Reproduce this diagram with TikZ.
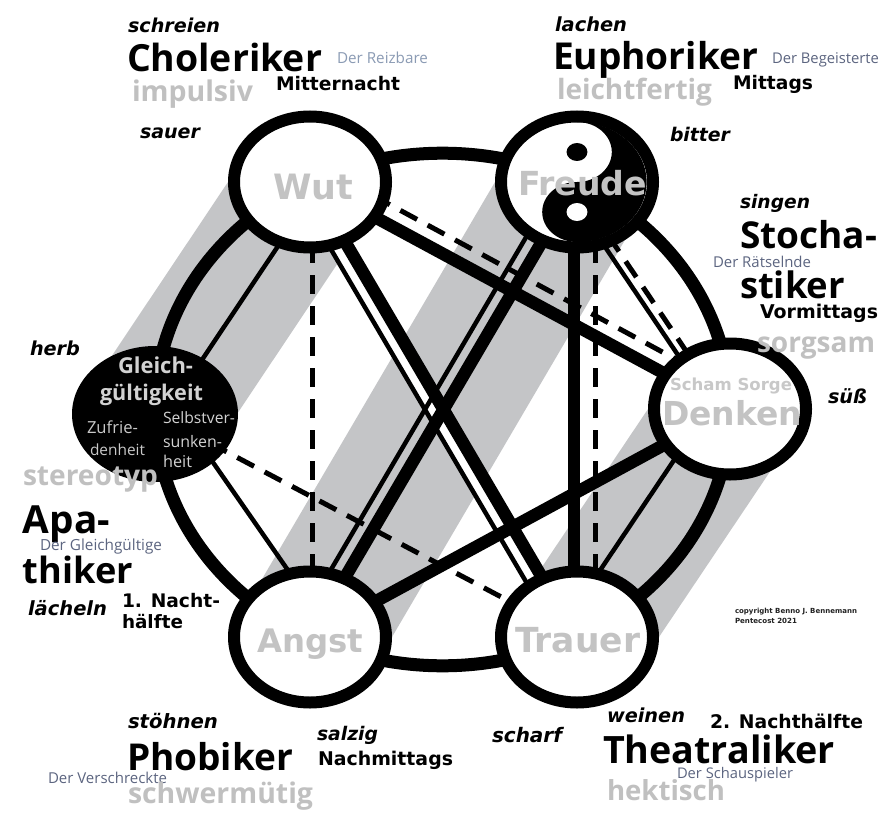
\documentclass[tikz,border=0pt]{standalone}
\usepackage{fontspec}
\usepackage{graphicx}
\setmainfont{DejaVu Sans}[BoldFont={DejaVu Sans Bold},ItalicFont={DejaVu Sans Oblique},BoldItalicFont={DejaVu Sans Bold Oblique}]
\newfontfamily\osans{Open Sans}
\usetikzlibrary{shapes.geometric,calc}
\pgfdeclarelayer{back}
\pgfsetlayers{back,main}
\definecolor{stripe}{HTML}{C4C5C7}
\definecolor{lgray}{HTML}{C0C0C0}
\definecolor{ngray}{HTML}{C3C3C3}
\definecolor{slateA}{HTML}{8B9BB4}
\definecolor{slateB}{HTML}{5C6580}
\definecolor{gtxtA}{HTML}{D2D2D2}
\definecolor{gtxtB}{HTML}{C8C8C8}
\definecolor{copyc}{HTML}{222222}
\newcommand\fw[2]{\resizebox{#1pt}{!}{#2}}
\begin{document}
\begin{tikzpicture}[x=1pt,y=-1pt,
  wn/.style={ellipse, draw=black, fill=white, line width=12pt, minimum width=152pt, minimum height=131pt, inner sep=0pt},
  gn/.style={ellipse, fill=black, minimum width=166pt, minimum height=136pt, inner sep=0pt},
  tx/.style={anchor=base west, inner sep=0pt, outer sep=0pt},
  thickl/.style={line width=12.5pt},
  thinl/.style={line width=4.5pt},
  dashl/.style={line width=5pt, dash pattern=on 19pt off 12pt},
  ringl/.style={line width=13pt}
]
\useasboundingbox (0,0) rectangle (888,829);

% nodes
\node[wn] (wut) at (310,182) {};
\node[wn] (freude) at (577,182) {};
\node[wn] (denken) at (730,409) {};
\node[wn] (trauer) at (577,637) {};
\node[wn] (angst) at (310,637) {};
\node[gn] (gleich) at (155,414) {};

% yin-yang inside Freude
\begin{scope}[shift={(freude.center)}, xscale=1.16]
  \fill[black] (0,-60) arc[start angle=-90, end angle=90, radius=60]
     arc[start angle=90, end angle=270, radius=30]
     arc[start angle=90, end angle=-90, radius=30] -- cycle;
  \fill[black] (0,-30) circle[radius=9];
  \fill[white] (0,30) circle[radius=9];
\end{scope}

\begin{pgfonlayer}{back}
  \fill[white] (0,0) rectangle (888,829);
  % gray stripes
  \fill[stripe] ([xshift=-82pt]gleich.center) -- ([xshift=82pt]gleich.center) -- ([xshift=82pt]wut.center) -- ([xshift=-82pt]wut.center) -- cycle;
  \fill[stripe] ([xshift=-82pt]angst.center) -- ([xshift=82pt]angst.center) -- ([xshift=82pt]freude.center) -- ([xshift=-82pt]freude.center) -- cycle;
  \fill[stripe] ([xshift=-82pt]trauer.center) -- ([xshift=82pt]trauer.center) -- ([xshift=82pt]denken.center) -- ([xshift=-82pt]denken.center) -- cycle;
  % ring
  \draw[ringl] (442.5,409.5) ellipse [x radius=287.5, y radius=256.3];
  % white gap of the Wut-Trauer pair
  \draw[white, line width=8pt] ($(wut.center)!10pt!-90:(trauer.center)$) -- ($(trauer.center)!10pt!90:(wut.center)$);
  % Wut - Trauer
  \draw[thickl] (wut.center) -- (trauer.center);
  \draw[thinl] ($(wut.center)!16pt!-90:(trauer.center)$) -- ($(trauer.center)!16pt!90:(wut.center)$);
  % Freude - Angst
  \draw[thickl] (freude.center) -- (angst.center);
  \draw[thinl] ($(freude.center)!16pt!-90:(angst.center)$) -- ($(angst.center)!16pt!90:(freude.center)$);
  % Wut - Denken
  \draw[thickl] (wut.center) -- (denken.center);
  \draw[dashl] ($(wut.center)!18pt!90:(denken.center)$) -- ($(denken.center)!18pt!-90:(wut.center)$);
  % Freude - Trauer
  \draw[thickl] ($(freude.center)!3pt!-90:(trauer.center)$) -- ($(trauer.center)!3pt!90:(freude.center)$);
  \draw[dashl] ($(freude.center)!18pt!90:(trauer.center)$) -- ($(trauer.center)!18pt!-90:(freude.center)$);
  % Freude - Denken
  \draw[thinl] ($(freude.center)!13pt!-90:(denken.center)$) -- ($(denken.center)!13pt!90:(freude.center)$);
  \draw[dashl] ($(freude.center)!4pt!-90:(denken.center)$) -- ($(denken.center)!4pt!90:(freude.center)$);
  % Wut - Angst
  \draw[dashl] ($(wut.center)!2pt!90:(angst.center)$) -- ($(angst.center)!2pt!-90:(wut.center)$);
  % Wut - Gleich
  \draw[thinl] ($(wut.center)!9pt!90:(gleich.center)$) -- ($(gleich.center)!9pt!-90:(wut.center)$);
  % Gleich - Angst
  \draw[thinl] ($(gleich.center)!20pt!90:(angst.center)$) -- ($(angst.center)!20pt!-90:(gleich.center)$);
  % Gleich - Trauer
  \draw[dashl] (gleich.center) -- (trauer.center);
  % Denken - Angst
  \draw[thickl] (denken.center) -- (angst.center);
  % Denken - Trauer
  \draw[thinl] ($(denken.center)!18pt!-90:(trauer.center)$) -- ($(trauer.center)!18pt!90:(denken.center)$);
\end{pgfonlayer}

% node labels
\node[tx, text=ngray] (lwut) at (273,200) {\fw{80}{\bfseries Wut}};
\node[tx, text=ngray] (lfreude) at (518,195) {\fw{129}{\bfseries Freude}};
\node[tx, text=ngray] (langst) at (257,652) {\fw{106}{\bfseries Angst}};
\node[tx, text=ngray] (ltrauer) at (515,652) {\fw{125}{\bfseries Trauer}};
\node[tx, text=ngray] (ldenken) at (662,425) {\fw{140}{\bfseries Denken}};
\node[tx, text=gtxtB] (lscham) at (670,390) {\fw{122}{\bfseries Scham Sorge}};
\node[tx, text=gtxtA] (lg1) at (118,373) {\fw{75}{\osans\bfseries Gleich-}};
\node[tx, text=gtxtA] (lg2) at (100,400) {\fw{103}{\osans\bfseries gültigkeit}};
\node[tx, text=gtxtB] (lz1) at (87,433) {\fw{51}{\osans Zufrie-}};
\node[tx, text=gtxtB] (lz2) at (90,455) {\fw{55}{\osans denheit}};
\node[tx, text=gtxtA] (ls1) at (163,423) {\fw{72}{\osans Selbstver-}};
\node[tx, text=gtxtA] (ls2) at (163,447) {\fw{59}{\osans sunken-}};
\node[tx, text=gtxtA] (ls3) at (163,467) {\fw{29}{\osans heit}};

% Choleriker group
\node[tx] (c1) at (128,33) {\fw{92}{\bfseries\itshape schreien}};
\node[tx] (c2) at (127,72) {\fw{195}{\osans\bfseries Choleriker}};
\node[tx, text=slateA] (c3) at (337,64) {\fw{91}{\osans Der Reizbare}};
\node[tx] (c4) at (276,91) {\fw{124}{\bfseries Mitternacht}};
\node[tx, text=lgray] (c5) at (132,102) {\fw{121}{\osans\bfseries impulsiv}};
\node[tx] (c6) at (140,139) {\fw{60}{\bfseries\itshape sauer}};

% Euphoriker group
\node[tx] (e1) at (555,32) {\fw{72}{\bfseries\itshape lachen}};
\node[tx] (e2) at (553,70) {\fw{205}{\osans\bfseries Euphoriker}};
\node[tx, text=slateB] (e3) at (772,64) {\fw{107}{\osans Der Begeisterte}};
\node[tx] (e4) at (733,90) {\fw{80}{\bfseries Mittags}};
\node[tx, text=lgray] (e5) at (557,100) {\fw{155}{\osans\bfseries leichtfertig}};
\node[tx] (e6) at (670,142) {\fw{60}{\bfseries\itshape bitter}};

% Stochastiker group
\node[tx] (s1) at (740,208) {\fw{70}{\bfseries\itshape singen}};
\node[tx] (s2) at (740,248) {\fw{137}{\osans\bfseries Stocha-}};
\node[tx, text=slateB] (s3) at (713,267) {\fw{98}{\osans Der Rätselnde}};
\node[tx] (s4) at (740,298) {\fw{105}{\osans\bfseries stiker}};
\node[tx] (s5) at (760,318) {\fw{118}{\bfseries Vormittags}};
\node[tx, text=lgray] (s6) at (757,352) {\fw{118}{\osans\bfseries sorgsam}};
\node[tx] (s7) at (828,403) {\fw{39}{\bfseries\itshape süß}};

% Apathiker group
\node[tx] (a1) at (30,355) {\fw{50}{\bfseries\itshape herb}};
\node[tx, text=lgray] (a2) at (23,485) {\fw{135}{\osans\bfseries stereotyp}};
\node[tx] (a3) at (23,533) {\fw{87}{\osans\bfseries Apa-}};
\node[tx, text=slateB] (a4) at (40,550) {\fw{122}{\osans Der Gleichgültige}};
\node[tx] (a5) at (23,583) {\fw{110}{\osans\bfseries thiker}};
\node[tx] (a6) at (28,615) {\fw{79}{\bfseries\itshape lächeln}};
\node[tx] (a7) at (122,607) {\fw{98}{\bfseries 1. Nacht-}};
\node[tx] (a8) at (122,628) {\fw{61}{\bfseries hälfte}};

% Phobiker group
\node[tx] (p1) at (128,728) {\fw{90}{\bfseries\itshape stöhnen}};
\node[tx] (p2) at (127,770) {\fw{166}{\osans\bfseries Phobiker}};
\node[tx] (p3) at (317,740) {\fw{61}{\bfseries\itshape salzig}};
\node[tx] (p4) at (318,765) {\fw{135}{\bfseries Nachmittags}};
\node[tx, text=slateB] (p5) at (48,783) {\fw{119}{\osans Der Verschreckte}};
\node[tx, text=lgray] (p6) at (128,803) {\fw{185}{\osans\bfseries schwermütig}};

% Theatraliker group
\node[tx] (h1) at (492,742) {\fw{70}{\bfseries\itshape scharf}};
\node[tx] (h2) at (607,722) {\fw{78}{\bfseries\itshape weinen}};
\node[tx] (h3) at (710,728) {\fw{153}{\bfseries 2. Nachthälfte}};
\node[tx] (h4) at (603,763) {\fw{232}{\osans\bfseries Theatraliker}};
\node[tx, text=slateB] (h5) at (677,778) {\fw{116}{\osans Der Schauspieler}};
\node[tx, text=lgray] (h6) at (607,800) {\fw{118}{\osans\bfseries hektisch}};

% copyright
\node[tx, text=copyc] (cp1) at (735,613) {\fw{122}{\bfseries copyright Benno J. Bennemann}};
\node[tx, text=copyc] (cp2) at (735,623) {\fw{62}{\bfseries Pentecost 2021}};
\end{tikzpicture}
\end{document}
